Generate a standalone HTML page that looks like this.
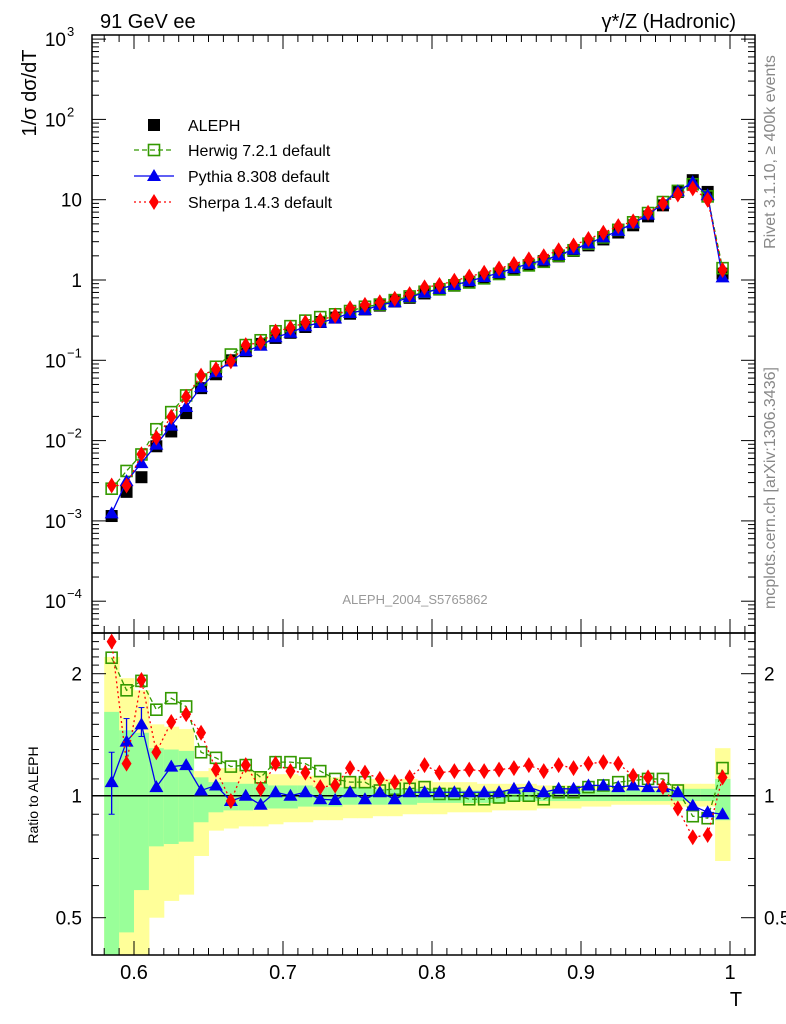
<!DOCTYPE html>
<html><head><meta charset="utf-8"><style>
body{margin:0;background:#fff;}
svg{display:block;font-family:"Liberation Sans",Arial,sans-serif;}
</style></head><body>
<svg id="c" width="786" height="1024" viewBox="0 0 786 1024">
<text x="100" y="28" font-size="20">91 GeV ee</text>
<text x="736" y="28" font-size="20" text-anchor="end">γ*/Z (Hadronic)</text>
<text transform="translate(36,93) rotate(-90)" font-size="20" text-anchor="middle">1/σ  dσ/dT</text>
<text transform="translate(775,152) rotate(-90)" font-size="16" fill="#888" text-anchor="middle">Rivet 3.1.10, ≥ 400k events</text>
<text transform="translate(775,488) rotate(-90)" font-size="16" fill="#888" text-anchor="middle">mcplots.cern.ch [arXiv:1306.3436]</text>
<text x="415" y="604" font-size="13" fill="#999" text-anchor="middle">ALEPH_2004_S5765862</text>
<text transform="translate(38,795) rotate(-90)" font-size="14" text-anchor="middle">Ratio to ALEPH</text>
<text x="736" y="1006" font-size="20" text-anchor="middle">T</text>
<g id="g"></g>
</svg>
<script>
const binCenters=[0.585,0.595,0.605,0.615,0.625,0.635,0.645,0.655,0.665,0.675,0.685,0.695,0.705,0.715,0.725,0.735,0.745,0.755,0.765,0.775,0.785,0.795,0.805,0.815,0.825,0.835,0.845,0.855,0.865,0.875,0.885,0.895,0.905,0.915,0.925,0.935,0.945,0.955,0.965,0.975,0.985,0.995];
const alephValues=[0.00115,0.0023,0.0035,0.0085,0.013,0.022,0.045,0.067,0.10,0.13,0.16,0.19,0.22,0.26,0.30,0.34,0.38,0.43,0.48,0.54,0.60,0.68,0.76,0.85,0.95,1.07,1.2,1.35,1.52,1.72,1.97,2.3,2.7,3.2,3.9,4.8,6.2,8.5,12.5,17.5,12.5,1.2];
const herwigRatio=[2.19,1.82,1.92,1.63,1.74,1.66,1.28,1.24,1.18,1.19,1.11,1.21,1.21,1.20,1.15,1.10,1.08,1.08,1.03,1.04,1.04,1.05,1.01,1.01,0.98,0.98,0.99,1.00,1.00,0.98,1.02,1.02,1.05,1.06,1.08,1.09,1.10,1.10,1.03,0.89,0.88,1.17];
const pythiaRatio=[1.08,1.36,1.50,1.05,1.18,1.19,1.03,1.06,0.97,1.00,0.95,1.02,1.00,1.02,0.98,0.976,1.02,0.98,1.02,0.98,1.02,1.02,1.02,1.02,1.02,1.02,1.02,1.04,1.05,1.02,1.04,1.04,1.06,1.06,1.05,1.06,1.05,1.05,1.02,0.945,0.91,0.90];
const sherpaRatio=[2.40,1.20,1.93,1.28,1.52,1.59,1.43,1.16,0.97,1.19,1.04,1.20,1.15,1.14,1.05,1.06,1.17,1.14,1.10,1.08,1.11,1.19,1.14,1.15,1.16,1.15,1.16,1.17,1.19,1.15,1.19,1.17,1.20,1.21,1.20,1.12,1.11,1.05,0.93,0.79,0.80,1.11];
const yellowHi=[2.2,1.95,1.82,1.5,1.48,1.46,1.15,1.17,1.17,1.15,1.14,1.13,1.13,1.12,1.12,1.11,1.11,1.10,1.10,1.10,1.10,1.09,1.08,1.08,1.08,1.07,1.07,1.07,1.07,1.06,1.06,1.06,1.06,1.05,1.05,1.05,1.05,1.05,1.07,1.07,1.07,1.31];
const yellowLo=[0.3,0.3,0.3,0.5,0.55,0.57,0.71,0.82,0.83,0.84,0.84,0.85,0.86,0.86,0.87,0.87,0.88,0.88,0.89,0.89,0.90,0.90,0.90,0.91,0.91,0.91,0.92,0.92,0.92,0.93,0.93,0.93,0.94,0.94,0.95,0.95,0.95,0.95,0.94,0.94,0.94,0.69];
const greenHi=[1.61,1.45,1.43,1.31,1.30,1.29,1.11,1.08,1.08,1.07,1.07,1.06,1.06,1.06,1.05,1.05,1.05,1.05,1.04,1.04,1.04,1.04,1.04,1.04,1.03,1.03,1.03,1.03,1.03,1.03,1.03,1.03,1.03,1.03,1.03,1.03,1.03,1.03,1.04,1.04,1.04,1.10];
const greenLo=[0.3,0.46,0.585,0.75,0.76,0.77,0.86,0.91,0.92,0.92,0.93,0.93,0.93,0.94,0.94,0.94,0.95,0.95,0.95,0.95,0.95,0.96,0.96,0.96,0.96,0.96,0.96,0.97,0.97,0.97,0.97,0.97,0.97,0.97,0.97,0.97,0.97,0.97,0.97,0.97,0.97,0.87];
const pythiaErrHi=[1.28,1.55,1.65];
const pythiaErrLo=[0.90,1.20,1.40];
const xTicks=[0.6,0.7,0.8,0.9,1.0];
const xTickLabels=["0.6","0.7","0.8","0.9","1"];
const yDecades=[-4,-3,-2,-1,0,1,2,3];
const yDecadeLabels=["10","10","10","10","1","10","10","10"];
const yDecadeExp=["−4","−3","−2","−1","","","2","3"];
const rTicks=[0.5,1,2];
const rTickLabels=["0.5","1","2"];

const NS="http://www.w3.org/2000/svg";
const G=document.getElementById('g');
const L=92,R=755,T=35,M=633,B=955;
function X(t){return 134+(t-0.6)*1490;}
function Y(v){return 280-Math.log10(v)*80.3;}
function RY(r){return 795.7-Math.log2(r)*122;}
function mk(tag,at,parent){const e=document.createElementNS(NS,tag);for(const k in at)e.setAttribute(k,at[k]);(parent||G).appendChild(e);return e;}
const hw=0.005;
const band=mk('g',{'clip-path':'url(#rc)'});
const defs=mk('defs',{});const cp=mk('clipPath',{id:'rc'},defs);mk('rect',{x:L,y:M,width:R-L,height:B-M},cp);
const cpm=mk('clipPath',{id:'mc'},defs);mk('rect',{x:L,y:T,width:R-L,height:M-T},cpm);
binCenters.forEach((c,i)=>{
  const y=mk('rect',{x:X(c-hw),y:RY(yellowHi[i]),width:X(c+hw)-X(c-hw)+0.5,height:RY(yellowLo[i])-RY(yellowHi[i]),fill:'#ffff99'},band);
  
  
  const g=mk('rect',{x:X(c-hw),y:RY(greenHi[i]),width:X(c+hw)-X(c-hw)+0.5,height:RY(greenLo[i])-RY(greenHi[i]),fill:'#99ff99'},band);
  
  
});
mk('line',{x1:L,x2:R,y1:RY(1),y2:RY(1),stroke:'#000','stroke-width':1.5});
mk('rect',{x:L,y:T,width:R-L,height:M-T,fill:'none',stroke:'#000','stroke-width':1.5});
mk('rect',{x:L,y:M,width:R-L,height:B-M,fill:'none',stroke:'#000','stroke-width':1.5});
for(let t=0.58;t<=1.011;t+=0.01){const tt=Math.round(t*100)/100;const maj=Math.abs(tt*10-Math.round(tt*10))<1e-6;const len=maj?14:7;
 [T,M].forEach(y0=>mk('line',{x1:X(tt),x2:X(tt),y1:y0,y2:y0+len,stroke:'#000'}));
 [M,B].forEach(y0=>mk('line',{x1:X(tt),x2:X(tt),y1:y0,y2:y0-len,stroke:'#000'}));}
xTicks.forEach((t,i)=>{const e=mk('text',{x:X(t),y:979,'font-size':20,'text-anchor':'middle'});e.textContent=xTickLabels[i];
 
 });
yDecades.forEach((d,i)=>{
 const y=Y(Math.pow(10,d));
 mk('line',{x1:L,x2:L+14,y1:y,y2:y,stroke:'#000'});mk('line',{x1:R,x2:R-14,y1:y,y2:y,stroke:'#000'});
 for(let k=2;k<=9;k++){const yy=Y(k*Math.pow(10,d));if(yy<T)continue;mk('line',{x1:L,x2:L+7,y1:yy,y2:yy,stroke:'#000'});mk('line',{x1:R,x2:R-7,y1:yy,y2:yy,stroke:'#000'});}
 const e=mk('text',{x:yDecadeExp[i]?66:82,y:y+7,'font-size':19,'text-anchor':'end'});e.textContent=yDecadeLabels[i];
 
 
 if(yDecadeExp[i]){const s=mk('text',{x:67,y:y-3,'font-size':13});s.textContent=yDecadeExp[i];}
});
for(let k=5;k<=9;k++){const yy=Y(k*1e-5);if(yy<M){mk('line',{x1:L,x2:L+7,y1:yy,y2:yy,stroke:'#000'});mk('line',{x1:R,x2:R-7,y1:yy,y2:yy,stroke:'#000'});}}
[0.4,0.5,0.6,0.7,0.8,0.9,1,1.1,1.2,1.3,1.4,1.5,1.6,1.7,1.8,1.9,2,2.1,2.2,2.3,2.4].forEach(r=>{const y=RY(r);if(y<M||y>B)return;const maj=(r==0.5||r==1||r==2);const len=maj?14:7;
 mk('line',{x1:L,x2:L+len,y1:y,y2:y,stroke:'#000'});mk('line',{x1:R,x2:R-len,y1:y,y2:y,stroke:'#000'});});
rTicks.forEach((r,i)=>{[[82,'end'],[764,'start']].forEach(([x,a])=>{const e=mk('text',{x:x,y:RY(r)+7,'font-size':19,'text-anchor':a});e.textContent=rTickLabels[i];
 
 });});
function marker(kind,x,y,parent){
 if(kind=='sq')return mk('rect',{x:x-6,y:y-6,width:12,height:12,fill:'#000'},parent);
 if(kind=='osq')return mk('rect',{x:x-5.5,y:y-5.5,width:11,height:11,fill:'#fff','fill-opacity':0.01,stroke:'#339900','stroke-width':1.6},parent);
 if(kind=='tri')return mk('polygon',{points:`${x},${y-7} ${x-7},${y+5} ${x+7},${y+5}`,fill:'#0000ee'},parent);
 if(kind=='dia')return mk('polygon',{points:`${x},${y-8} ${x-5},${y} ${x},${y+8} ${x+5},${y}`,fill:'#ff0000'},parent);
}
const series=[
 {name:'herwig',ratio:herwigRatio,col:'#339900',dash:'5,3',m:'osq'},
 {name:'pythia',ratio:pythiaRatio,col:'#0000ee',dash:'',m:'tri'},
 {name:'sherpa',ratio:sherpaRatio,col:'#ff0000',dash:'2,3',m:'dia'}];
const mainG=mk('g',{'clip-path':'url(#mc)'});
const ratG=mk('g',{'clip-path':'url(#rc)'});
pythiaErrHi.forEach((h,i)=>{const x=X(binCenters[i]);mk('line',{x1:x,x2:x,y1:RY(h),y2:RY(pythiaErrLo[i]),stroke:'#0000ee','stroke-width':1.3},ratG);
 mk('line',{x1:x-3,x2:x+3,y1:RY(h),y2:RY(h),stroke:'#0000ee'},ratG);mk('line',{x1:x-3,x2:x+3,y1:RY(pythiaErrLo[i]),y2:RY(pythiaErrLo[i]),stroke:'#0000ee'},ratG);});
binCenters.forEach((c,i)=>{const e=marker('sq',X(c),Y(alephValues[i]),mainG);
 
 });
series.forEach(s=>{
 const mp=binCenters.map((c,i)=>X(c)+','+Y(alephValues[i]*s.ratio[i])).join(' ');
 const rp=binCenters.map((c,i)=>X(c)+','+RY(s.ratio[i])).join(' ');
 const a=mk('polyline',{points:mp,fill:'none',stroke:s.col,'stroke-width':1.3,'stroke-dasharray':s.dash},mainG);
 
 
 const b=mk('polyline',{points:rp,fill:'none',stroke:s.col,'stroke-width':1.3,'stroke-dasharray':s.dash},ratG);
 
 
 binCenters.forEach((c,i)=>{
  const p=marker(s.m,X(c),Y(alephValues[i]*s.ratio[i]),mainG);
  
  
  const q=marker(s.m,X(c),RY(s.ratio[i]),ratG);
  
  
 });
});
const leg=[['sq','#000','','ALEPH',125],['osq','#339900','5,3','Herwig 7.2.1 default',150],['tri','#0000ee','','Pythia 8.308 default',176],['dia','#ff0000','2,3','Sherpa 1.4.3 default',202]];
leg.forEach(([m,c,d,t,y])=>{const g=mk('g',{});
 
 
 if(m!='sq')mk('line',{x1:134,x2:174,y1:y,y2:y,stroke:c,'stroke-width':1.3,'stroke-dasharray':d},g);
 marker(m,154,y,g);
 const e=mk('text',{x:188,y:y+6,'font-size':16},g);e.textContent=t;});
</script>
</body></html>
